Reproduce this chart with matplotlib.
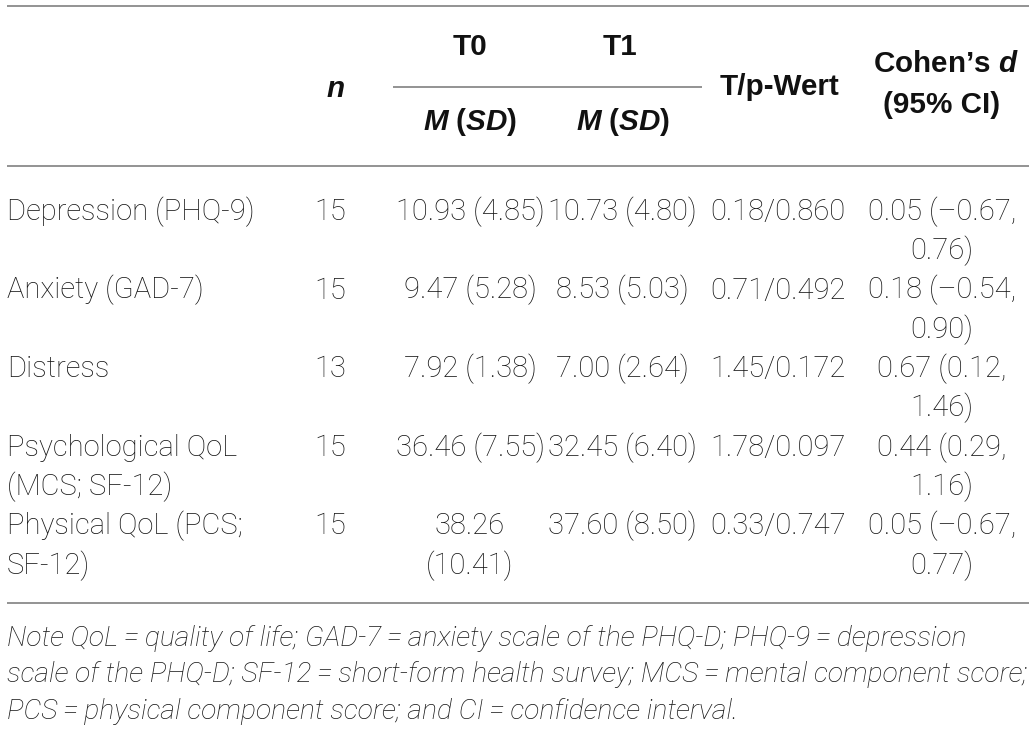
import matplotlib
matplotlib.use("Agg")
import matplotlib.pyplot as plt

# table content
measures = ["Depression (PHQ-9)", "Anxiety (GAD-7)", "Distress",
            "Psychological QoL\n(MCS; SF-12)", "Physical QoL (PCS;\nSF-12)"]
n_vals = [15, 15, 13, 15, 15]
t0_mean = [10.93, 9.47, 7.92, 36.46, 38.26]
t0_sd = [4.85, 5.28, 1.38, 7.55, 10.41]
t1_mean = [10.73, 8.53, 7.00, 32.45, 37.60]
t1_sd = [4.80, 5.03, 2.64, 6.40, 8.50]
t_vals = [0.18, 0.71, 1.45, 1.78, 0.33]
p_vals = [0.860, 0.492, 0.172, 0.097, 0.747]
d_vals = [0.05, 0.18, 0.67, 0.44, 0.05]
ci_low = [-0.67, -0.54, 0.12, 0.29, -0.67]
ci_high = [0.76, 0.90, 1.46, 1.16, 0.77]

note_lines = [
    "Note QoL\u2009=\u2009quality of life; GAD-7\u2009=\u2009anxiety scale of the PHQ-D; PHQ-9\u2009=\u2009depression",
    "scale of the PHQ-D; SF-12\u2009=\u2009short-form health survey; MCS\u2009=\u2009mental component score;",
    "PCS\u2009=\u2009physical component score; and CI\u2009=\u2009confidence interval.",
]

plt.rcParams['mathtext.fontset'] = 'custom'
plt.rcParams['mathtext.it'] = 'Liberation Sans:italic:bold'
plt.rcParams['mathtext.rm'] = 'Liberation Sans:bold'

W, H = 1036, 732
fig = plt.figure(figsize=(W / 100, H / 100), dpi=100)
ax = fig.add_axes([0, 0, 1, 1])
ax.set_xlim(0, W)
ax.set_ylim(H, 0)
ax.axis('off')

body = dict(family=['Roboto', 'DejaVu Sans'], fontweight='light', fontsize=21, color='#151515')
head = dict(family=['Liberation Sans', 'DejaVu Sans'], fontweight='bold', fontsize=21.3, color='#111111')
rule = dict(color='#8a8a8a', lw=1.3)

# rules
ax.hlines([6, 166, 603], 7, 1029, **rule)
ax.hlines(87, 393, 702, **rule)

# header
ax.text(335, 89, r"$\mathit{n}$", ha='center', va='center', **head)
ax.text(470, 47, "T0", ha='center', va='center', **head)
ax.text(620, 47, "T1", ha='center', va='center', **head)
ax.text(470, 122, r"$\mathit{M}$ ($\mathit{SD}$)", ha='center', va='center', **head)
ax.text(623, 122, r"$\mathit{M}$ ($\mathit{SD}$)", ha='center', va='center', **head)
ax.text(779, 87, "T/p-Wert", ha='center', va='center', **head)
ax.text(946, 64, "Cohen\u2019s $\\mathit{d}$", ha='center', va='center', **head)
ax.text(942, 105, "(95% CI)", ha='center', va='center', **head)

# body rows
line_h = 39.3
first = 210
base_off = 10


def put(x, y, s, ha):
    for k, part in enumerate(s.split("\n")):
        ax.text(x, y + k * line_h + base_off, part, ha=ha, va='baseline', **body)


def minus(v):
    return f"{v:.2f}".replace("-", "\u2013")


for i in range(len(measures)):
    y = first + i * 2 * line_h
    put(7, y, measures[i], 'left')
    put(330, y, str(n_vals[i]), 'center')
    s0 = f"{t0_mean[i]:.2f} ({t0_sd[i]:.2f})"
    if len(s0) > 12:
        s0 = s0.replace(" ", "\n")
    put(470, y, s0, 'center')
    put(622, y, f"{t1_mean[i]:.2f} ({t1_sd[i]:.2f})", 'center')
    put(778, y, f"{t_vals[i]:.2f}/{p_vals[i]:.3f}", 'center')
    put(942, y, f"{d_vals[i]:.2f} ({minus(ci_low[i])},\n{ci_high[i]:.2f})", 'center')

# note
for k, line in enumerate(note_lines):
    ax.text(7, 637 + k * 36.5 + 9, line, ha='left', va='baseline', style='italic',
            family=['Roboto', 'DejaVu Sans'], fontweight='light', fontsize=20.3, color='#151515')

fig.savefig("out.png", dpi=100)
